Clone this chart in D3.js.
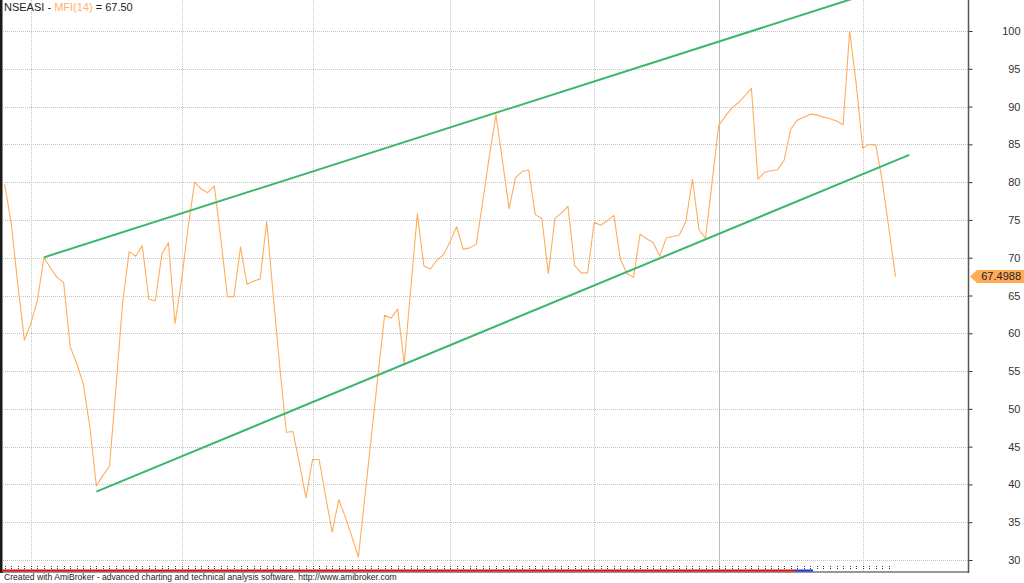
<!DOCTYPE html>
<html><head><meta charset="utf-8">
<script src="https://cdn.jsdelivr.net/npm/d3@7/dist/d3.min.js"></script>
<style>
html,body{margin:0;padding:0;background:#fff;}
svg{display:block;font-family:"Liberation Sans",Arial,sans-serif;}
</style></head><body>
<svg id="c" width="1024" height="583"></svg>
<script>
// ---- data ----
const mfiValues = [79.7,74.5,66.5,59.1,61.3,64.4,70.05,68.6,67.4,66.7,
58.2,56.0,53.3,47.6,39.8,41.2,42.4,53.0,64.0,70.8,
70.2,71.6,64.5,64.3,70.5,72.0,61.3,67.0,74.0,80.0,
79.1,78.6,79.5,72.5,64.85,64.85,71.4,66.5,66.9,67.2,
74.8,65.0,55.5,46.9,47.0,42.8,38.2,43.3,43.3,38.4,
33.7,38.0,35.7,33.1,30.4,38.5,46.5,54.5,62.4,62.0,
63.2,56.0,66.0,75.8,68.9,68.5,69.7,70.4,72.1,74.1,
71.1,71.3,71.8,77.5,83.5,88.9,82.8,76.5,80.6,81.4,
81.6,75.7,75.2,67.9,75.2,75.9,76.8,69.0,68.0,68.0,
74.7,74.3,74.9,75.6,69.8,67.9,67.4,73.1,72.5,72.0,
70.2,72.6,72.8,73.0,74.8,80.4,73.7,72.6,80.0,87.5,
88.7,89.8,90.5,91.4,92.4,80.4,81.3,81.5,81.65,82.9,
87.0,88.2,88.6,89.0,88.9,88.6,88.4,88.1,87.6,100.0,
93.0,84.5,85.0,84.9,80.0,73.8,67.4988];
const yTicks = [30,35,40,45,50,55,60,65,70,75,80,85,90,95,100];
const monthGridBars = [4,27,47,68,90,131];
const yearGridBars = [109];
const upperTrend = [[6,70.05],[130,104.42]];
const lowerTrend = [[14,39.04],[138.1,83.6]];
const titleParts = [["NSEASI - ","#222"],["MFI(14)","#ffb366"],[" = 67.50","#222"]];
const lastLabel = "67.4988";
const footerText = "Created with AmiBroker - advanced charting and technical analysis software. http://www.amibroker.com";

// ---- layout ----
const W = 1024, H = 583;
const axisX = 968, plotBottom = 572;
const svg = d3.select("#c");
svg.append("rect").attr("width",W).attr("height",H).attr("fill","#fff");

const x = d3.scaleLinear().domain([0, mfiValues.length-1]).range([4.7, 895.5]);
const y = d3.scaleLinear().domain([30,100]).range([560,31]);

svg.append("clipPath").attr("id","plotclip").append("rect")
  .attr("x",2).attr("y",0).attr("width",axisX-2).attr("height",plotBottom);

// horizontal grid
svg.append("g").selectAll("line").data(yTicks).join("line")
  .attr("x1",3).attr("x2",axisX).attr("y1",d=>Math.round(y(d))+0.5).attr("y2",d=>Math.round(y(d))+0.5)
  .attr("stroke","#c4c4c4").attr("stroke-width",1).attr("stroke-dasharray","1,1");

// vertical grid
svg.append("g").selectAll("line").data(monthGridBars).join("line")
  .attr("x1",d=>Math.round(x(d))+0.5).attr("x2",d=>Math.round(x(d))+0.5).attr("y1",0).attr("y2",plotBottom)
  .attr("stroke","#c4c4c4").attr("stroke-width",1).attr("stroke-dasharray","1,1");
svg.append("g").selectAll("line").data(yearGridBars).join("line")
  .attr("x1",d=>Math.round(x(d))+0.5).attr("x2",d=>Math.round(x(d))+0.5).attr("y1",0).attr("y2",plotBottom)
  .attr("stroke","#bdbdbd").attr("stroke-width",1);

// MFI line
const line = d3.line().x((d,i)=>x(i)).y(d=>y(d));
svg.append("path").datum(mfiValues).attr("d",line)
  .attr("fill","none").attr("stroke","#ffad5c").attr("stroke-width",1.1)
  .attr("stroke-linejoin","round").attr("clip-path","url(#plotclip)");

// trend lines
const tl = d3.line().x(d=>x(d[0])).y(d=>y(d[1]));
[upperTrend, lowerTrend].forEach(t=>{
  svg.append("path").datum(t).attr("d",tl).attr("fill","none")
    .attr("stroke","#3cb66a").attr("stroke-width",2).attr("clip-path","url(#plotclip)");
});

// left border
svg.append("rect").attr("x",0).attr("y",0).attr("width",2.5).attr("height",plotBottom+1).attr("fill","#1a1a1a");

// bottom axis line, range bars, ticks
svg.append("line").attr("x1",0).attr("x2",axisX+1).attr("y1",572).attr("y2",572).attr("stroke","#333").attr("stroke-width",1);
svg.append("rect").attr("x",2).attr("y",569.5).attr("width",795-2).attr("height",2).attr("fill","#e01010");
svg.append("rect").attr("x",795).attr("y",569.5).attr("width",18).attr("height",2).attr("fill","#2030e0");
svg.append("g").selectAll("line").data(d3.range(0, mfiValues.length-1)).join("line")
  .attr("x1",d=>Math.round(x(d))+0.5).attr("x2",d=>Math.round(x(d))+0.5)
  .attr("y1",566).attr("y2",570).attr("stroke","#333").attr("stroke-width",1).attr("stroke-dasharray","1,1");

// right axis
const ax = svg.append("g").attr("transform",`translate(${axisX+0.5},0)`)
  .call(d3.axisRight(y).tickValues(yTicks).tickSize(4).tickSizeOuter(0).tickFormat(d3.format("d")));
ax.select(".domain").remove();
ax.selectAll(".tick line").attr("stroke","#333");
ax.selectAll(".tick text").attr("text-anchor","end").attr("x",52).attr("fill","#333")
  .style("font-size","11px").style("font-family","'Liberation Sans',Arial,sans-serif");
svg.append("line").attr("x1",axisX+0.5).attr("x2",axisX+0.5).attr("y1",0).attr("y2",plotBottom+1)
  .attr("stroke","#555").attr("stroke-width",1.5);

// last value label
const lv = mfiValues[mfiValues.length-1];
const ly = y(lv);
svg.append("polygon")
  .attr("points",`${axisX+2},${ly} ${axisX+9},${ly-6.5} ${W},${ly-6.5} ${W},${ly+6.5} ${axisX+9},${ly+6.5}`)
  .attr("fill","#ffab58");
svg.append("text").attr("x",W-3).attr("y",ly).attr("dy","0.35em").attr("text-anchor","end")
  .attr("fill","#222").style("font-size","11px").text(lastLabel);

// title
const tt = svg.append("text").attr("x",4).attr("y",11).style("font-size","11px");
titleParts.forEach(p=>tt.append("tspan").attr("fill",p[1]).text(p[0]));

// footer
svg.append("text").attr("x",4).attr("y",580).attr("fill","#222").style("font-size","8.6px").text(footerText);
</script>
</body></html>
